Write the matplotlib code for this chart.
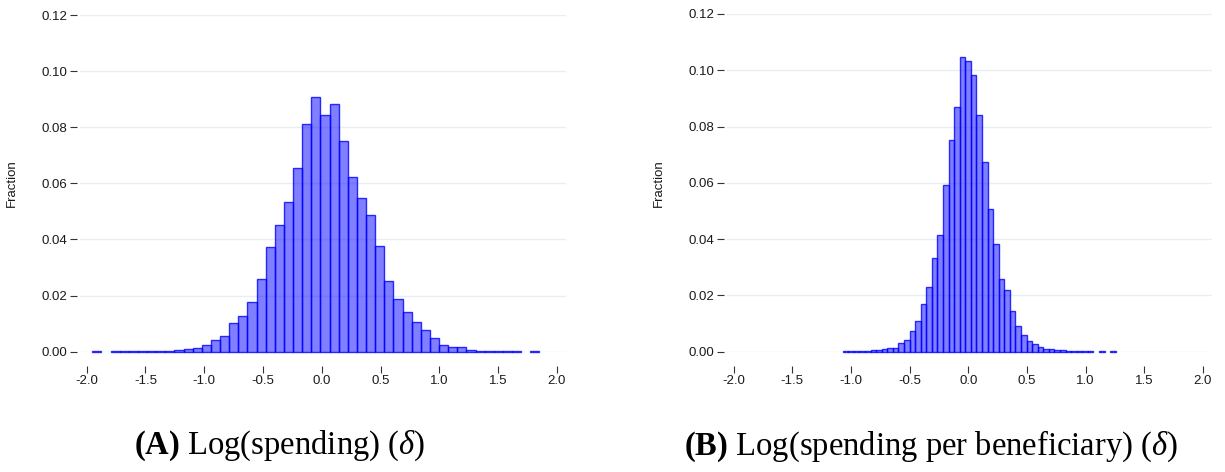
import numpy as np
import matplotlib
matplotlib.use("Agg")
import matplotlib.pyplot as plt

# ---- data (fractions per histogram bin) ----
a_bin_start = -1.952
a_bin_width = 0.0776
a_fraction = [0.0001, 0.0, 0.0001, 0.0001, 0.0001, 0.0001, 0.0002, 0.0002, 0.0004, 0.0007,
              0.0008, 0.0012, 0.0025, 0.0043, 0.0057, 0.0102, 0.0127, 0.0178, 0.0260, 0.0374,
              0.0453, 0.0534, 0.0656, 0.0811, 0.0907, 0.0845, 0.0882, 0.0751, 0.0622, 0.0547,
              0.0487, 0.0378, 0.0252, 0.0188, 0.0140, 0.0107, 0.0077, 0.0050, 0.0025, 0.0018,
              0.0018, 0.0007, 0.0004, 0.0002, 0.0002, 0.0001, 0.0001, 0.0, 0.0001]

b_bin_start = -1.071
b_bin_width = 0.0475
b_fraction = [0.0002, 0.0002, 0.0002, 0.0002, 0.0004, 0.0005, 0.0006, 0.0008, 0.0012, 0.0013,
              0.0030, 0.0040, 0.0072, 0.0108, 0.0168, 0.0231, 0.0332, 0.0414, 0.0591, 0.0751,
              0.0868, 0.1046, 0.1033, 0.0982, 0.0840, 0.0673, 0.0506, 0.0381, 0.0260, 0.0221,
              0.0145, 0.0092, 0.0058, 0.0038, 0.0026, 0.0017, 0.0009, 0.0008, 0.0006, 0.0005,
              0.0004, 0.0002, 0.0002, 0.0002, 0.0002, 0.0, 0.0001, 0.0, 0.0001]

x_ticks = [-2.0, -1.5, -1.0, -0.5, 0.0, 0.5, 1.0, 1.5, 2.0]
x_ticklabels = ["-2.0", "-1.5", "-1.0", "-0.5", "0.0", "0.5", "1.0", "1.5", "2.0"]
y_ticks = [0.00, 0.02, 0.04, 0.06, 0.08, 0.10, 0.12]
y_ticklabels = ["0.00", "0.02", "0.04", "0.06", "0.08", "0.10", "0.12"]
y_label = "Fraction"
captions = [(r"$\mathbf{(A)}$ Log(spending) ($\delta$)"),
            (r"$\mathbf{(B)}$ Log(spending per beneficiary) ($\delta$)")]

plt.rcParams['font.family'] = ['Liberation Sans', 'DejaVu Sans']
plt.rcParams['mathtext.fontset'] = 'custom'
plt.rcParams['mathtext.rm'] = 'Liberation Serif'
plt.rcParams['mathtext.bf'] = 'Liberation Serif:bold'
plt.rcParams['mathtext.it'] = 'Liberation Serif:italic'

W, H = 1225, 472
fig = plt.figure(figsize=(W / 100, H / 100), dpi=100)

panels = [
    (a_bin_start, a_bin_width, a_fraction, (80, 566), (15, 351.7), 12, 280),
    (b_bin_start, b_bin_width, b_fraction, (727, 1212), (14, 351.7), 659, 931),
]

for (start, width, frac, (px0, px1), (py0, py1), ylab_x, cap_x), cap in zip(panels, captions):
    ax = fig.add_axes([px0 / W, 1 - py1 / H, (px1 - px0) / W, (py1 - py0) / H])
    frac = np.asarray(frac)
    lefts = start + width * np.arange(len(frac))
    mask = frac > 0
    ax.bar(lefts[mask], frac[mask], width=width, align='edge',
           color=(0, 0, 1, 0.5), edgecolor=(0, 0, 1, 0.8), linewidth=1.0,
           clip_on=False, zorder=3)
    ax.set_xlim(-2.057, 2.077)
    ax.set_ylim(0, 0.12)
    for s in ax.spines.values():
        s.set_visible(False)
    ax.spines['bottom'].set_position(('outward', 10))
    ax.spines['left'].set_position(('outward', 2))
    ax.set_xticks(x_ticks)
    ax.set_xticklabels(x_ticklabels)
    ax.set_yticks(y_ticks)
    ax.set_yticklabels(y_ticklabels)
    ax.tick_params(axis='x', length=5, width=0.8, color='#333333', pad=2,
                   labelsize=9.5, labelcolor='#1a1a1a')
    ax.tick_params(axis='y', length=5, width=0.8, color='#333333', pad=2,
                   labelsize=9.5, labelcolor='#1a1a1a')
    ax.grid(axis='y', color='#e8eff1', linewidth=1.0, zorder=0)
    ax.set_axisbelow(True)
    fig.text(ylab_x / W, 1 - 183 / H, y_label, rotation=90, ha='center', va='center',
             fontsize=9.5, color='#1a1a1a')
    fig.text(cap_x / W, 1 - 446 / H, cap, ha='center', va='center', fontsize=23.5,
             color='black', family=['Liberation Serif', 'DejaVu Serif'])

fig.savefig("out.png", dpi=100)
